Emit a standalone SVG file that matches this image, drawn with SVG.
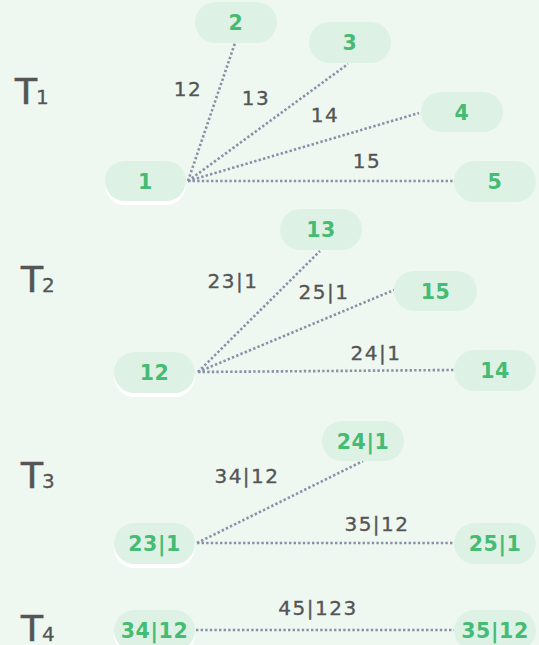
<svg xmlns="http://www.w3.org/2000/svg" width="539" height="645" viewBox="0 0 539 645">
<style>
.bg{fill:#eef8f1}
.pill{fill:#ddf2e5}
.sh{fill:#ffffff}
.nt{font-family:"DejaVu Sans","Liberation Sans",sans-serif;font-weight:700;font-size:20.5px;fill:#45bb74;text-anchor:middle;letter-spacing:0.6px}
.el{font-family:"DejaVu Sans","Liberation Sans",sans-serif;font-size:20px;fill:#555555;stroke:#555555;stroke-width:0.35;text-anchor:middle;letter-spacing:1.5px}
.tl{font-family:"DejaVu Sans","Liberation Sans",sans-serif;fill:#555555;stroke:#555555;stroke-width:0.7}
.e{stroke:#8a90a8;stroke-width:2.6;stroke-dasharray:2.4 2.2;fill:none}
</style>
<rect class="bg" x="0" y="0" width="539" height="645"/>

<g id="tiers">
<text class="tl" x="15" y="104" font-size="36">T<tspan font-size="20" dx="-1" stroke-width="0.3">1</tspan></text>
<text class="tl" x="21" y="292" font-size="36">T<tspan font-size="20" dx="-1" stroke-width="0.3">2</tspan></text>
<text class="tl" x="21" y="488" font-size="36">T<tspan font-size="20" dx="-1" stroke-width="0.3">3</tspan></text>
<text class="tl" x="21" y="641" font-size="36">T<tspan font-size="20" dx="-1" stroke-width="0.3">4</tspan></text>
</g>

<g id="connectors">
<line class="e" x1="188" y1="181" x2="235" y2="43"/>
<line class="e" x1="188" y1="181" x2="348" y2="64"/>
<line class="e" x1="188" y1="181" x2="419" y2="113"/>
<line class="e" x1="188" y1="181" x2="454" y2="181"/>
<line class="e" x1="198" y1="372" x2="320" y2="251"/>
<line class="e" x1="198" y1="372" x2="394" y2="290"/>
<line class="e" x1="198" y1="372" x2="454" y2="370"/>
<line class="e" x1="197" y1="543" x2="363" y2="461"/>
<line class="e" x1="197" y1="543" x2="454" y2="543"/>
<line class="e" x1="196" y1="630" x2="454" y2="630"/>
<text class="el" x="188" y="96">12</text>
<text class="el" x="256" y="105">13</text>
<text class="el" x="325" y="122">14</text>
<text class="el" x="367" y="168">15</text>
<text class="el" x="233" y="288">23|1</text>
<text class="el" x="324" y="299">25|1</text>
<text class="el" x="376" y="360">24|1</text>
<text class="el" x="247" y="483">34|12</text>
<text class="el" x="377" y="531">35|12</text>
<text class="el" x="318" y="615">45|123</text>
</g>

<g id="n1"><rect class="sh" x="105" y="165" width="81" height="40" rx="20"/><rect class="pill" x="105" y="161" width="81" height="40" rx="20"/><text class="nt" x="145.5" y="188.5">1</text></g>
<g id="n2"><rect class="pill" x="195" y="2" width="82" height="41" rx="20.5"/><text class="nt" x="236" y="29.5">2</text></g>
<g id="n3"><rect class="pill" x="309" y="22" width="82" height="41" rx="20.5"/><text class="nt" x="350" y="49.5">3</text></g>
<g id="n4"><rect class="pill" x="421" y="92" width="82" height="40" rx="20"/><text class="nt" x="462" y="119.5">4</text></g>
<g id="n5"><rect class="pill" x="454" y="161" width="82" height="41" rx="20.5"/><text class="nt" x="495" y="188.5">5</text></g>

<g id="n12"><rect class="sh" x="114" y="356" width="81" height="41" rx="20.5"/><rect class="pill" x="114" y="352" width="81" height="41" rx="20.5"/><text class="nt" x="154.5" y="379.5">12</text></g>
<g id="n13"><rect class="pill" x="280" y="209" width="82" height="41" rx="20.5"/><text class="nt" x="321" y="236.5">13</text></g>
<g id="n15"><rect class="pill" x="394" y="271" width="83" height="40" rx="20"/><text class="nt" x="435.5" y="298.5">15</text></g>
<g id="n14"><rect class="pill" x="454" y="350" width="82" height="41" rx="20.5"/><text class="nt" x="495" y="377.5">14</text></g>

<g id="n23_1"><rect class="sh" x="114" y="527" width="81" height="41" rx="20.5"/><rect class="pill" x="114" y="523" width="81" height="41" rx="20.5"/><text class="nt" x="154.5" y="550.5">23|1</text></g>
<g id="n24_1"><rect class="pill" x="322" y="421" width="82" height="40" rx="20"/><text class="nt" x="363" y="448.5">24|1</text></g>
<g id="n25_1"><rect class="pill" x="454" y="523" width="82" height="41" rx="20.5"/><text class="nt" x="495" y="550.5">25|1</text></g>

<g id="n34_12"><rect class="sh" x="114" y="614" width="81" height="41" rx="20.5"/><rect class="pill" x="114" y="610" width="81" height="41" rx="20.5"/><text class="nt" x="154.5" y="637.5">34|12</text></g>
<g id="n35_12"><rect class="pill" x="454" y="610" width="82" height="41" rx="20.5"/><text class="nt" x="495" y="637.5">35|12</text></g>
</svg>
